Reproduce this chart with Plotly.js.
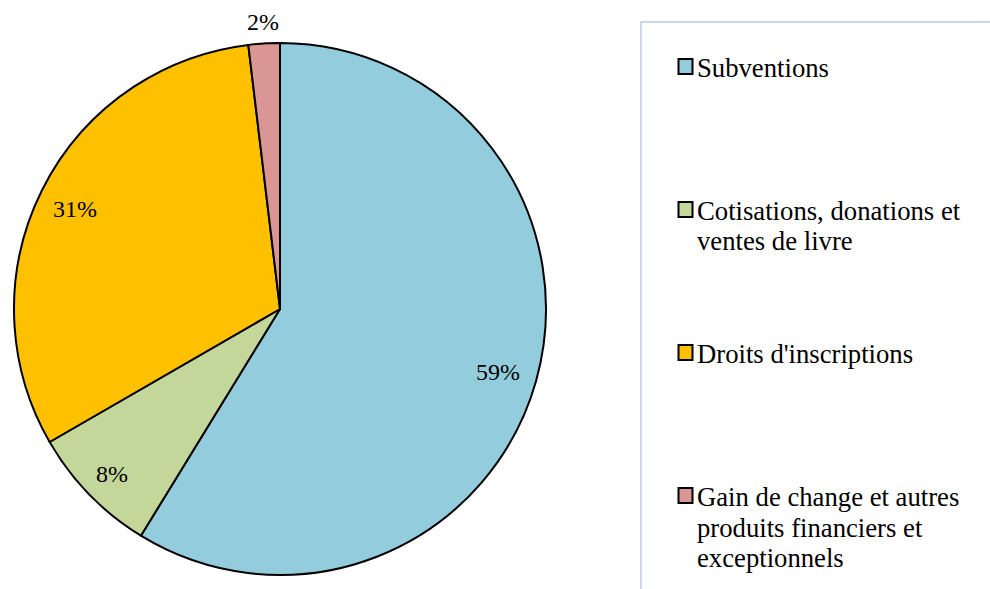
<!DOCTYPE html>
<html>
<head>
<meta charset="utf-8">
<script src="https://cdn.plot.ly/plotly-3.0.1.min.js"></script>
<style>html,body{margin:0;padding:0;background:#fff;}#chart{width:990px;height:589px;}</style>
</head>
<body>
<div id="chart"></div>
<script>
// ---- data ----
const labels = ["Subventions", "Cotisations, donations et<br>ventes de livre", "Droits d'inscriptions", "Gain de change et autres<br>produits financiers et<br>exceptionnels"];
const values = [58.7, 7.9, 31.4, 1.9];
const colors = ["#93CDDD", "#C4D79B", "#FFC000", "#D99694"];

// ---- layout constants ----
const W = 990, H = 589;
const CX = 280, CY = 309, R = 266;
const labelRadius = [0.85, 0.88, 0.86, 1.09];
const FONT = "'Times New Roman', 'Liberation Serif', 'DejaVu Serif', serif";
const FS_LABEL = 24;
const FS_LEG = 26.7;
const px2x = p => p / W;
const px2y = p => 1 - p / H;

const total = values.reduce((a, b) => a + b, 0);
const annotations = [];
const shapes = [];

// percentage labels computed from the data
let cum = 0;
values.forEach((v, i) => {
  const mid = (cum + v / 2) / total * 2 * Math.PI;
  cum += v;
  const rr = R * labelRadius[i];
  annotations.push({
    xref: "paper", yref: "paper",
    x: px2x(CX + rr * Math.sin(mid)), y: px2y(CY - rr * Math.cos(mid) + 2),
    xanchor: "center", yanchor: "middle",
    text: Math.round(v / total * 100) + "%",
    showarrow: false,
    font: {family: FONT, size: FS_LABEL, color: "#000"}
  });
});

// legend frame
shapes.push({type: "rect", xref: "paper", yref: "paper",
  x0: px2x(641), x1: 1.05, y0: -0.05, y1: px2y(22),
  line: {color: "#B9CBE3", width: 1.5}, fillcolor: "rgba(0,0,0,0)"});

// legend entries built from labels/colors
const LEG_Y0 = 68, LEG_STEP = 143, LINE_H = 30.5;
labels.forEach((lab, i) => {
  const y0 = LEG_Y0 + i * LEG_STEP;
  shapes.push({type: "rect", xref: "paper", yref: "paper",
    x0: px2x(678.5), x1: px2x(692.5), y0: px2y(y0 + 6), y1: px2y(y0 - 9),
    fillcolor: colors[i], line: {color: "#000", width: 2}});
  lab.split("<br>").forEach((ln, j) => {
    annotations.push({
      xref: "paper", yref: "paper",
      x: px2x(695), y: px2y(y0 + j * LINE_H),
      xanchor: "left", yanchor: "middle", align: "left",
      text: ln, showarrow: false,
      font: {family: FONT, size: FS_LEG, color: "#000"}
    });
  });
});

const trace = {
  type: "pie",
  labels: labels,
  values: values,
  sort: false,
  direction: "clockwise",
  rotation: 0,
  textinfo: "none",
  hoverinfo: "label+percent",
  marker: {colors: colors, line: {color: "#000", width: 2}},
  domain: {x: [px2x(CX - R), px2x(CX + R)], y: [px2y(CY + R), px2y(CY - R)]},
  showlegend: false
};

const layout = {
  width: W, height: H,
  margin: {l: 0, r: 0, t: 0, b: 0},
  paper_bgcolor: "#fff",
  showlegend: false,
  annotations: annotations,
  shapes: shapes,
  font: {family: FONT}
};

Plotly.newPlot("chart", [trace], layout, {displayModeBar: false, staticPlot: true});
</script>
</body>
</html>
